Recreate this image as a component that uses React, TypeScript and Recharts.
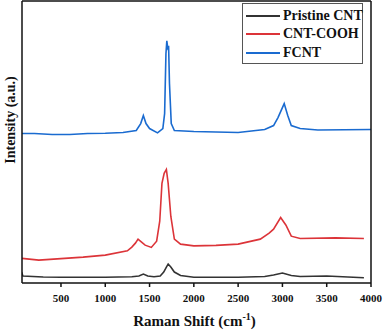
import { LineChart, Line, XAxis, YAxis, Legend } from "recharts";

// Raman shift (cm-1) and intensity (a.u., stacked offsets as drawn)
const pristineX = [55, 70, 300, 500, 1000, 1300, 1380, 1430, 1480, 1550, 1620, 1660, 1690, 1710, 1740, 1780, 1850, 2000, 2500, 2800, 2900, 3000, 3100, 3200, 3500, 3920];
const pristineY = [11, 7, 6, 5.7, 5.7, 6.3, 7, 9, 7, 6.3, 7, 11, 16, 19, 16, 11, 7.5, 5.7, 5.7, 6.5, 8, 10, 7.5, 6.5, 7, 5.3];

const coohX = [60, 250, 500, 750, 1000, 1250, 1300, 1340, 1370, 1410, 1450, 1520, 1580, 1615, 1640, 1665, 1690, 1710, 1740, 1780, 1850, 2000, 2250, 2500, 2750, 2850, 2900, 2980, 3040, 3100, 3200, 3600, 3920];
const coohY = [24.7, 23, 24.5, 26, 28, 32.3, 36, 40, 44, 41, 38, 35.7, 42, 62, 100, 110, 114, 100, 67, 44, 39, 37.3, 37.8, 39, 44, 50, 54, 65.7, 58, 47, 44.7, 45.3, 44.7];

const fcntX = [60, 200, 400, 600, 800, 1000, 1200, 1350, 1400, 1430, 1460, 1500, 1590, 1650, 1670, 1685, 1695, 1705, 1715, 1725, 1745, 1780, 2000, 2500, 2800, 2900, 2950, 3020, 3060, 3100, 3200, 3400, 4000];
const fcntY = [150, 150, 149, 149, 150, 150.3, 151, 153, 160, 168, 160, 155, 150.7, 155, 170, 230, 243, 236, 238, 200, 160, 153, 152, 151, 154, 158, 166, 180, 168, 158, 155, 153.5, 154];

const xTicks = [500, 1000, 1500, 2000, 2500, 3000, 3500, 4000];

const seriesNames = ["Pristine CNT", "CNT-COOH", "FCNT"];
const seriesColors = ["#333333", "#dc3439", "#1a6bd0"];

const toPoints = (xs: number[], ys: number[]) => xs.map((x, i) => ({ x, y: ys[i] }));

const FONT = '"Liberation Serif", "Times New Roman", serif';

function LegendBox() {
  return (
    <div
      style={{
        border: "1px solid #555",
        background: "#fff",
        padding: "3px 0 3px 3px",
        fontFamily: FONT,
        fontWeight: 700,
        fontSize: 14,
        boxSizing: "border-box",
        width: 121,
        height: 61,
        whiteSpace: "nowrap",
        textAlign: "left",
      }}
    >
      {seriesNames.map((name, i) => (
        <div key={name} style={{ display: "flex", alignItems: "center", height: 18.3 }}>
          <span style={{ display: "inline-block", flex: "none", width: 34, height: 2, background: seriesColors[i], marginRight: 3 }} />
          <span style={{ color: "#111", lineHeight: "18px" }}>{name}</span>
        </div>
      ))}
    </div>
  );
}

function XTick(props: any) {
  const { x, y, payload } = props;
  return (
    <text x={x} y={y + 13} textAnchor="middle" fontFamily={FONT} fontWeight={700} fontSize={11} fill="#111">
      {payload.value}
    </text>
  );
}

function XTitle(props: any) {
  const vb = props.viewBox;
  return (
    <text
      x={vb.x + vb.width / 2 - 2}
      y={vb.y + 43}
      textAnchor="middle"
      fontFamily={FONT}
      fontWeight={700}
      fontSize={15}
      fill="#111"
    >
      Raman Shift (cm
      <tspan dy={-6} fontSize={10}>-1</tspan>
      <tspan dy={6}>)</tspan>
    </text>
  );
}

function YTitle(props: any) {
  const vb = props.viewBox;
  const cx = vb.x - 11;
  const cy = 120;
  return (
    <text
      x={cx}
      y={cy}
      transform={`rotate(-90 ${cx} ${cy})`}
      textAnchor="middle"
      dominantBaseline="central"
      fontFamily={FONT}
      fontWeight={700}
      fontSize={14}
      fill="#111"
    >
      Intensity (a.u.)
    </text>
  );
}

export default function App() {
  return (
    <div style={{ position: "absolute", left: 0, top: 0, background: "#fff" }}>
      <LineChart width={390} height={332} margin={{ top: 0, right: 18, left: 21, bottom: 9 }}>
        <XAxis
          xAxisId="b"
          type="number"
          dataKey="x"
          domain={[60, 4000]}
          ticks={xTicks}
          allowDataOverflow
          height={40}
          tickSize={4}
          stroke="#111"
          strokeWidth={1.5}
          tick={<XTick />}
          label={<XTitle />}
        />
        <XAxis
          xAxisId="t"
          orientation="top"
          type="number"
          dataKey="x"
          domain={[60, 4000]}
          height={1}
          tick={false}
          tickLine={false}
          stroke="#111"
          strokeWidth={1.5}
        />
        <YAxis
          yAxisId="l"
          type="number"
          domain={[0, 283]}
          width={1}
          tick={false}
          tickLine={false}
          stroke="#111"
          strokeWidth={1.5}
          label={<YTitle />}
        />
        <YAxis
          yAxisId="r"
          orientation="right"
          type="number"
          domain={[0, 283]}
          width={1}
          tick={false}
          tickLine={false}
          stroke="#111"
          strokeWidth={1.5}
        />
        <Legend
          layout="horizontal"
          verticalAlign="middle"
          align="center"
          content={<LegendBox />}
          wrapperStyle={{ left: 242, top: 3, width: 121, height: 61 }}
        />
        <Line
          xAxisId="b"
          yAxisId="l"
          data={toPoints(pristineX, pristineY)}
          dataKey="y"
          name={seriesNames[0]}
          stroke={seriesColors[0]}
          strokeWidth={1.6}
          dot={false}
          type="linear"
          isAnimationActive={false}
        />
        <Line
          xAxisId="b"
          yAxisId="l"
          data={toPoints(coohX, coohY)}
          dataKey="y"
          name={seriesNames[1]}
          stroke={seriesColors[1]}
          strokeWidth={1.6}
          dot={false}
          type="linear"
          isAnimationActive={false}
        />
        <Line
          xAxisId="b"
          yAxisId="l"
          data={toPoints(fcntX, fcntY)}
          dataKey="y"
          name={seriesNames[2]}
          stroke={seriesColors[2]}
          strokeWidth={1.6}
          dot={false}
          type="linear"
          isAnimationActive={false}
        />
      </LineChart>
    </div>
  );
}
